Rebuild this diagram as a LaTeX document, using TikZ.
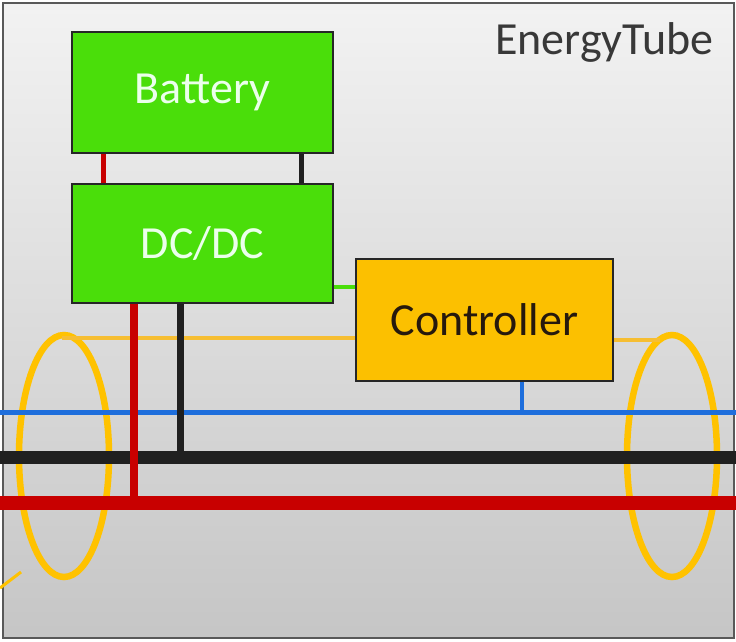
\documentclass[tikz,border=0pt]{standalone}
\usepackage{fontspec}
\setmainfont{Carlito}
\definecolor{boxgreen}{RGB}{74,222,10}
\definecolor{ctrlorange}{RGB}{252,192,0}
\definecolor{ringyellow}{RGB}{255,194,0}
\definecolor{sensewire}{RGB}{246,190,50}
\definecolor{wirered}{RGB}{200,0,0}
\definecolor{wireblue}{RGB}{30,110,220}
\definecolor{wireblack}{RGB}{32,32,32}

\begin{document}
\begin{tikzpicture}[x=1pt, y=-1pt,
    box/.style={draw=black!85, line width=2.5pt, inner sep=0pt,
        font=\fontsize{46}{50}\selectfont},
    ring/.style={draw=ringyellow, line width=6.5pt},
    wire/.style={line cap=butt}]
    \useasboundingbox (0,0) rectangle (736,641);

    % tube housing
    \shade[top color=gray!10, bottom color=gray!45] (3,3) rectangle (734,638);
    \draw[gray!70!black, line width=2pt] (3,3) rectangle (734,638);

    % blocks
    \node[box, fill=boxgreen, text=green!8, minimum width=261pt, minimum height=121pt]
        (battery) at (202.5,92.5) {Battery};
    \node[box, fill=boxgreen, text=green!8, minimum width=261pt, minimum height=119pt]
        (dcdc) at (202.5,243.5) {DC/DC};
    \node[box, fill=ctrlorange, text=black!80!brown, minimum width=257pt, minimum height=122pt]
        (ctrl) at (484.5,320) {Controller};
    \node[anchor=east, text=black!78, font=\fontsize{46}{50}\selectfont]
        (title) at (717,42) {EnergyTube};

    % current sensing rings
    \coordinate (ringL) at (64,456);
    \coordinate (ringR) at (672,456);
    \draw[ring] (ringL) ellipse [x radius=45, y radius=121];
    \draw[ring] (ringR) ellipse [x radius=45, y radius=121];
    \coordinate (ringLtop) at (62,338);
    \coordinate (ringRtop) at (660,340);
    \draw[sensewire, line width=4pt] (ringLtop) -- (ctrl.west |- ringLtop);
    \draw[sensewire, line width=4pt] (ctrl.east |- ringRtop) -- (ringRtop);
    \coordinate (stubA) at (0,588);
    \coordinate (stubB) at (21,572);
    \draw[ringyellow, line width=3pt] (stubA) -- (stubB);

    % bus lines
    \coordinate (blueW) at (0,412);   \coordinate (blueE) at (736,412);
    \coordinate (blackW) at (0,457);  \coordinate (blackE) at (736,457);
    \coordinate (redW) at (0,503);    \coordinate (redE) at (736,503);
    \draw[wireblue, line width=5pt] (blueW) -- (blueE);
    \draw[wireblack, line width=13pt, line cap=round] (blackW) -- (blackE);
    \draw[wirered, line width=14pt, line cap=round] (redW) -- (redE);

    % battery to DC/DC
    \coordinate (battR) at (103,0);
    \coordinate (battK) at (301,0);
    \draw[wire, wirered, line width=5pt] (battery.south -| battR) -- (dcdc.north -| battR);
    \draw[wire, wireblack, line width=5pt] (battery.south -| battK) -- (dcdc.north -| battK);

    % DC/DC and controller to the bus
    \coordinate (dropR) at (134,503);
    \coordinate (dropK) at (180,457);
    \coordinate (dropB) at (522,412);
    \draw[wire, wirered, line width=8pt] (dcdc.south -| dropR) -- (dropR);
    \draw[wire, wireblack, line width=7pt] (dcdc.south -| dropK) -- (dropK);
    \draw[wire, wireblue, line width=4pt] (ctrl.south -| dropB) -- (dropB);

    % data link
    \coordinate (linkY) at (0,287);
    \draw[boxgreen, line width=4pt] (dcdc.east |- linkY) -- (ctrl.west |- linkY);
\end{tikzpicture}
\end{document}
